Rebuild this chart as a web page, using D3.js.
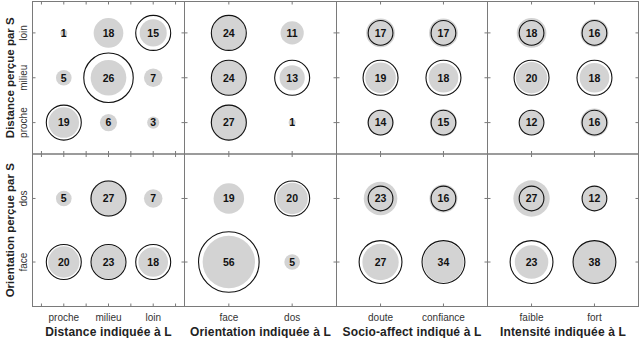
<!DOCTYPE html>
<html><head><meta charset="utf-8">
<script src="https://cdn.jsdelivr.net/npm/d3@7"></script>
<style>body{margin:0;background:#fff}svg{display:block}
svg text{font-family:"Liberation Sans",Arial,Helvetica,sans-serif}</style>
</head><body><svg id="c" width="640" height="338"></svg>
<script>
// ---- categories ----
const distCols = ["proche", "milieu", "loin"];
const orientCols = ["face", "dos"];
const socioCols = ["doute", "confiance"];
const intensCols = ["faible", "fort"];
const distRows = ["proche", "milieu", "loin"];   // bottom -> top
const orientRows = ["face", "dos"];              // bottom -> top
const colTitles = ["Distance indiquée à L", "Orientation indiquée à L", "Socio-affect indiqué à L", "Intensité indiquée à L"];
const rowTitles = ["Distance perçue par S", "Orientation perçue par S"];

// ---- observed counts (grey discs), [row][col] ----
const obsDistDist = [[19, 6, 3], [5, 26, 7], [1, 18, 15]];
const obsDistOrient = [[27, 1], [24, 13], [24, 11]];
const obsDistSocio = [[14, 15], [19, 18], [17, 17]];
const obsDistIntens = [[12, 16], [20, 18], [18, 16]];
const obsOrientDist = [[20, 23, 18], [5, 27, 7]];
const obsOrientOrient = [[56, 5], [19, 20]];
const obsOrientSocio = [[27, 34], [23, 16]];
const obsOrientIntens = [[23, 38], [27, 12]];

// ---- reference counts (black outlines), [row][col] ----
const refDistDist = [[25, 0, 0], [0, 50, 0], [0, 0, 25]];
const refDistOrient = [[25, 0], [25, 25], [25, 0]];
const refDistSocio = [[12.5, 12.5], [25, 25], [12.5, 12.5]];
const refDistIntens = [[12.5, 12.5], [25, 25], [12.5, 12.5]];
const refOrientDist = [[25, 25, 25], [0, 25, 0]];
const refOrientOrient = [[75, 0], [0, 25]];
const refOrientSocio = [[37.5, 37.5], [12.5, 12.5]];
const refOrientIntens = [[37.5, 37.5], [12.5, 12.5]];

const panels = [
  {r: 0, c: 0, cols: distCols, rows: distRows, obs: obsDistDist, ref: refDistDist},
  {r: 0, c: 1, cols: orientCols, rows: distRows, obs: obsDistOrient, ref: refDistOrient},
  {r: 0, c: 2, cols: socioCols, rows: distRows, obs: obsDistSocio, ref: refDistSocio},
  {r: 0, c: 3, cols: intensCols, rows: distRows, obs: obsDistIntens, ref: refDistIntens},
  {r: 1, c: 0, cols: distCols, rows: orientRows, obs: obsOrientDist, ref: refOrientDist},
  {r: 1, c: 1, cols: orientCols, rows: orientRows, obs: obsOrientOrient, ref: refOrientOrient},
  {r: 1, c: 2, cols: socioCols, rows: orientRows, obs: obsOrientSocio, ref: refOrientSocio},
  {r: 1, c: 3, cols: intensCols, rows: orientRows, obs: obsOrientIntens, ref: refOrientIntens}
];

const svg = d3.select("#c");
const xEdges = [32.5, 184.5, 336.5, 487.5, 638.5];
const yEdges = [1.5, 154, 306.5];
const rScale = d3.scaleSqrt().domain([0, 75]).range([0, 30.3]);
const frame = "#7a7a7a";

panels.forEach(p => {
  const x0 = xEdges[p.c], x1 = xEdges[p.c + 1];
  const y0 = yEdges[p.r], y1 = yEdges[p.r + 1];
  const x = d3.scaleLinear().domain([0.3, p.cols.length + 0.7]).range([x0, x1]);
  const y = d3.scaleLinear().domain([0.3, p.rows.length + 0.7]).range([y1, y0]);
  const g = svg.append("g");

  const cells = [];
  p.rows.forEach((rn, i) => p.cols.forEach((cn, j) => {
    cells.push({cx: x(j + 1), cy: y(i + 1), o: p.obs[i][j], e: p.ref[i][j]});
  }));

  g.selectAll("circle.obs").data(cells).join("circle")
    .attr("class", "obs")
    .attr("cx", d => d.cx).attr("cy", d => d.cy)
    .attr("r", d => rScale(d.o)).attr("fill", "#d3d3d3");

  g.selectAll("circle.ref").data(cells.filter(d => d.e > 0)).join("circle")
    .attr("class", "ref")
    .attr("cx", d => d.cx).attr("cy", d => d.cy)
    .attr("r", d => rScale(d.e)).attr("fill", "none")
    .attr("stroke", "#111").attr("stroke-width", 1.1);

  g.selectAll("text.val").data(cells).join("text")
    .attr("class", "val")
    .attr("x", d => d.cx).attr("y", d => d.cy)
    .attr("dy", "0.36em").attr("text-anchor", "middle")
    .attr("font-weight", "bold").attr("font-size", 10.5).attr("fill", "#111")
    .text(d => d.o);

  // frame
  g.append("rect").attr("x", x0).attr("y", y0).attr("width", x1 - x0).attr("height", y1 - y0)
    .attr("fill", "none").attr("stroke", frame).attr("stroke-width", 1);

  // ticks on horizontal edges (half steps) and vertical edges (categories)
  const tk = 3;
  const xt = x.ticks(8).filter(v => Math.abs(v * 2 - Math.round(v * 2)) < 1e-6);
  xt.forEach(v => {
    g.append("line").attr("x1", x(v)).attr("x2", x(v)).attr("y1", y1).attr("y2", y1 - tk).attr("stroke", frame);
    g.append("line").attr("x1", x(v)).attr("x2", x(v)).attr("y1", y0).attr("y2", y0 + tk).attr("stroke", frame);
  });
  p.rows.forEach((rn, i) => {
    g.append("line").attr("x1", x0).attr("x2", x0 + tk).attr("y1", y(i + 1)).attr("y2", y(i + 1)).attr("stroke", frame);
    g.append("line").attr("x1", x1).attr("x2", x1 - tk).attr("y1", y(i + 1)).attr("y2", y(i + 1)).attr("stroke", frame);
  });

  // x tick labels + title (bottom row)
  if (p.r === 1) {
    p.cols.forEach((cn, j) => {
      g.append("text").attr("x", x(j + 1)).attr("y", 321).attr("text-anchor", "middle")
        .attr("font-size", 10).attr("fill", "#333").text(cn);
    });
    g.append("text").attr("x", (x0 + x1) / 2).attr("y", 335.5).attr("text-anchor", "middle")
      .attr("font-size", 12).attr("font-weight", "bold").attr("fill", "#222")
      .attr("letter-spacing", 0.15)
      .text(colTitles[p.c]);
  }
  // y tick labels + title (first column)
  if (p.c === 0) {
    p.rows.forEach((rn, i) => {
      g.append("text").attr("transform", `translate(27,${y(i + 1)}) rotate(-90)`)
        .attr("text-anchor", "middle")
        .attr("font-size", 10).attr("fill", "#333").text(rn);
    });
    g.append("text").attr("transform", `translate(14,${(y0 + y1) / 2}) rotate(-90)`)
      .attr("text-anchor", "middle")
      .attr("font-size", 11.5).attr("font-weight", "bold").attr("fill", "#222")
      .text(rowTitles[p.r]);
  }
});
</script></body></html>
